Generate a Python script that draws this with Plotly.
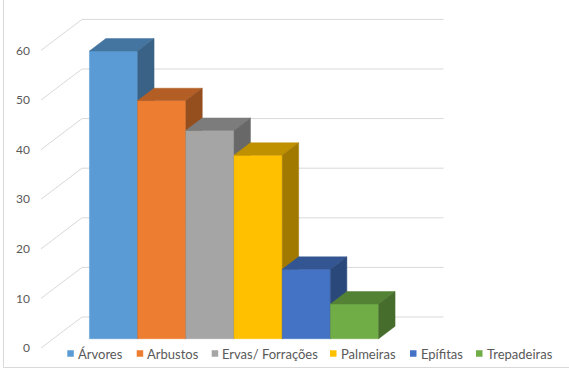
import plotly.graph_objects as go

# ---- data ----
categories = ["Árvores", "Arbustos", "Ervas/ Forrações", "Palmeiras", "Epífitas", "Trepadeiras"]
values = [58, 48, 42, 37, 14, 7]
y_ticks = [0, 10, 20, 30, 40, 50, 60]
y_tick_labels = ["0", "10", "20", "30", "40", "50", "60"]

# ---- style ----
front_colors = ["#5B9BD5", "#ED7D31", "#A5A5A5", "#FFC000", "#4472C4", "#70AD47"]
TOP_F, SIDE_F = 0.75, 0.63
GRID = "#D9D9D9"
TXT = "#595959"
FONT = "Lato"

W_PX, H_PX = 569, 369
L_MARGIN = 41
PX_X = 48.2          # pixels per bar width
PX_Y = 4.96          # pixels per value unit
ZERO_PX = 348        # front-plane zero line (pixel row)

# oblique depth vector of the whole floor (data units)
DX = 41 / PX_X
DY = 31 / PX_Y
WALL_W = 7.5         # 6 bars + 150% gap
GAP = (WALL_W - len(values)) / 2
BAR_D0, BAR_D1 = 0.3, 0.7   # bar depth span as fraction of floor depth


def shade(hexc, f):
    h = hexc.lstrip("#")
    r, g, b = (int(h[i:i + 2], 16) for i in (0, 2, 4))
    return "rgb(%d,%d,%d)" % (round(r * f), round(g * f), round(b * f))


fig = go.Figure()

# gridlines: left wall diagonal + back wall horizontal
for v in y_ticks:
    fig.add_trace(go.Scatter(
        x=[0, DX, DX + WALL_W], y=[v, v + DY, v + DY],
        mode="lines", line=dict(color=GRID, width=1),
        hoverinfo="skip", showlegend=False))

# bars (front, top, right side), drawn left to right
bd = BAR_D1 - BAR_D0
for i, (cat, v, c) in enumerate(zip(categories, values, front_colors)):
    xl = GAP + i + BAR_D0 * DX
    yb = BAR_D0 * DY
    xr = xl + 1
    ox, oy = bd * DX, bd * DY
    faces = [
        ([xl, xr, xr, xl, xl], [yb, yb, yb + v, yb + v, yb], c),
        ([xl, xr, xr + ox, xl + ox, xl], [yb + v, yb + v, yb + v + oy, yb + v + oy, yb + v], shade(c, TOP_F)),
        ([xr, xr + ox, xr + ox, xr, xr], [yb, yb + oy, yb + v + oy, yb + v, yb], shade(c, SIDE_F)),
    ]
    for fx, fy, col in faces:
        fig.add_trace(go.Scatter(
            x=fx, y=fy, mode="lines", fill="toself", fillcolor=col,
            line=dict(color=col, width=0.5), name=cat,
            hovertemplate=f"{cat}: {v}<extra></extra>", showlegend=False))

plot_w = W_PX - L_MARGIN
x_range = [0, plot_w / PX_X]
y_top = ZERO_PX / PX_Y
y_range = [y_top - H_PX / PX_Y, y_top]

# legend (manual, compact like the original)
sq_left_px = [67.3, 136.7, 211.7, 330.0, 410.0, 476.0]
SQ = 6.5
leg_cy = 353.5


def px2paper_x(px):
    return (px - L_MARGIN) / plot_w


def px2paper_y(py):
    return 1 - py / H_PX


shapes = []
annotations = []
for cat, c, sx in zip(categories, front_colors, sq_left_px):
    shapes.append(dict(type="rect", xref="paper", yref="paper",
                       x0=px2paper_x(sx), x1=px2paper_x(sx + SQ),
                       y0=px2paper_y(leg_cy + SQ / 2), y1=px2paper_y(leg_cy - SQ / 2),
                       fillcolor=c, line=dict(width=0)))
    annotations.append(dict(text=cat, xref="paper", yref="paper",
                            x=px2paper_x(sx + 8.5), y=px2paper_y(leg_cy),
                            xanchor="left", yanchor="middle", showarrow=False,
                            font=dict(family=FONT, size=13, color=TXT)))

# chart border (left and bottom visible)
shapes.append(dict(type="path", xref="paper", yref="paper",
                   path=f"M {px2paper_x(3.5)},{px2paper_y(-5)} L {px2paper_x(3.5)},{px2paper_y(367.5)} "
                        f"L {px2paper_x(575)},{px2paper_y(367.5)}",
                   line=dict(color=GRID, width=1)))

fig.update_layout(
    width=W_PX, height=H_PX,
    margin=dict(l=L_MARGIN, r=0, t=0, b=0),
    paper_bgcolor="white", plot_bgcolor="white",
    showlegend=False,
    shapes=shapes, annotations=annotations,
    xaxis=dict(range=x_range, visible=False, fixedrange=True),
    yaxis=dict(range=y_range, tickvals=y_ticks, ticktext=y_tick_labels,
               showgrid=False, zeroline=False, showline=False,
               ticks="", ticklabelstandoff=10,
               tickfont=dict(family=FONT, size=12, color=TXT), fixedrange=True),
)

fig.write_html("out.html", config={"displayModeBar": False},
               post_script="document.body.style.margin='0';")
